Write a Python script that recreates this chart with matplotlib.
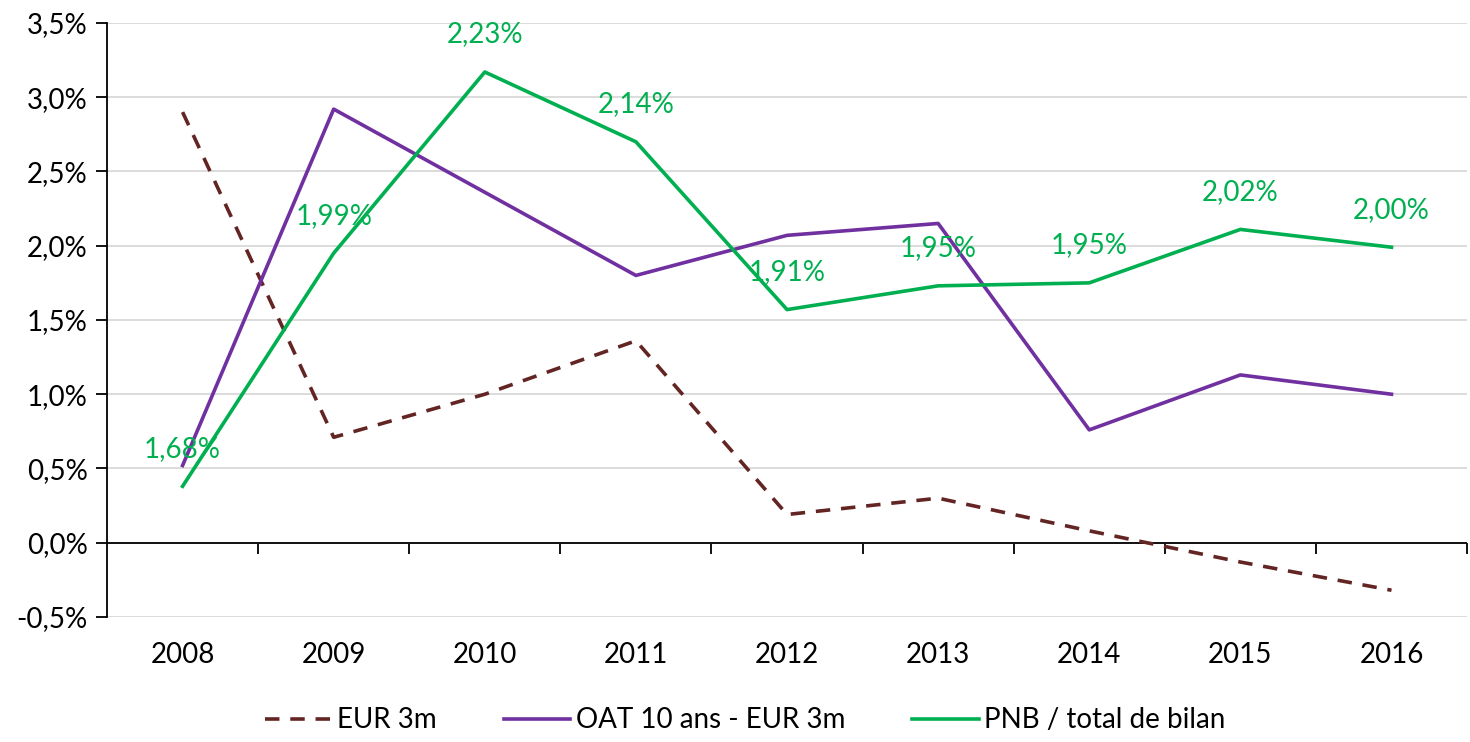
import numpy as np
import matplotlib
matplotlib.use("Agg")
import matplotlib.pyplot as plt
from matplotlib.ticker import FuncFormatter

plt.rcParams['font.family'] = ['Lato', 'DejaVu Sans']

years = ['2008', '2009', '2010', '2011', '2012', '2013', '2014', '2015', '2016']
eur_3m = [2.90, 0.71, 1.00, 1.36, 0.19, 0.30, 0.08, -0.13, -0.32]
oat_spread = [0.52, 2.92, 2.36, 1.80, 2.07, 2.15, 0.76, 1.13, 1.00]
# PNB / total de bilan, plotted on a hidden secondary axis (1,5% - 2,3%)
pnb_ratio = [1.676, 1.99, 2.234, 2.14, 1.914, 1.946, 1.95, 2.022, 1.998]

C_EUR = '#632523'
C_OAT = '#7030A0'
C_PNB = '#00B050'


def pct(v, pos=None):
    return ('%.1f%%' % v).replace('.', ',')


def main():
    fig = plt.figure(figsize=(14.7, 7.42), dpi=100)
    ax = fig.add_axes([0.0728, 0.1685, 0.9252, 0.8005])
    x = np.arange(len(years))

    l1, = ax.plot(x, eur_3m, color=C_EUR, lw=2.6, dashes=(4, 3), label='EUR 3m')
    l2, = ax.plot(x, oat_spread, color=C_OAT, lw=2.6, label='OAT 10 ans - EUR 3m')

    ax.set_xlim(-0.5, len(years) - 0.5)
    ax.set_ylim(-0.5, 3.5)
    ax.set_yticks(np.arange(-0.5, 3.51, 0.5))
    ax.yaxis.set_major_formatter(FuncFormatter(pct))
    ax.grid(axis='y', color='#D9D9D9', lw=1.3)
    ax.set_axisbelow(True)
    ax.axhline(0, color='black', lw=1.3, zorder=1.5)
    for s in ['top', 'right', 'bottom']:
        ax.spines[s].set_visible(False)
    ax.spines['left'].set_color('black')
    ax.spines['left'].set_linewidth(1.3)
    ax.tick_params(axis='y', length=8, width=1.3, labelsize=20, pad=6)

    ax.set_xticks(x)
    ax.set_xticklabels(years)
    ax.tick_params(axis='x', length=0, labelsize=20, pad=18)

    # category boundary ticks on the zero line
    sec = ax.secondary_xaxis(0.125)
    sec.set_xticks(np.arange(0.5, len(years), 1.0))
    sec.set_xticklabels([])
    sec.tick_params(length=8, width=1.3, color='black')
    sec.spines['bottom'].set_visible(False)

    ax2 = ax.twinx()
    ax2.set_ylim(1.5, 2.3)
    l3, = ax2.plot(x, pnb_ratio, color=C_PNB, lw=2.6, label='PNB / total de bilan')
    for xi, v in zip(x, pnb_ratio):
        ax2.annotate(('%.2f%%' % v).replace('.', ','), (xi, v), xytext=(0, 27),
                     textcoords='offset points', ha='center', va='center',
                     color=C_PNB, fontsize=20)
    ax2.set_yticks([])
    for s in ax2.spines.values():
        s.set_visible(False)

    fig.legend(handles=[l1, l2, l3], loc='lower center', bbox_to_anchor=(0.507, -0.022),
               ncol=3, frameon=False, fontsize=20, handlelength=2.4,
               handletextpad=0.2, columnspacing=2.4)

    fig.savefig('out.png', dpi=100)


if __name__ == '__main__':
    main()
